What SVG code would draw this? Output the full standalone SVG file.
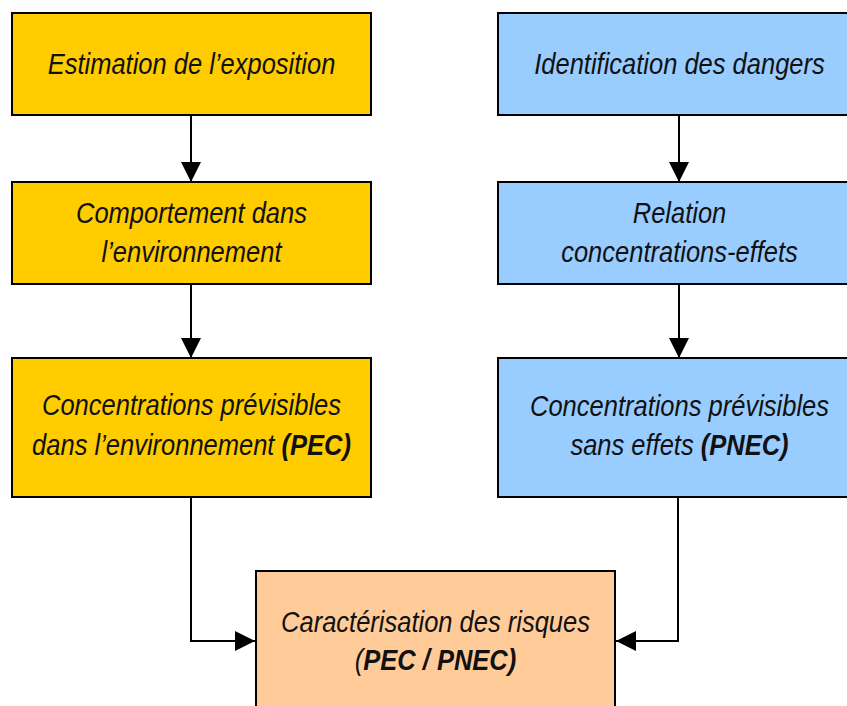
<svg xmlns="http://www.w3.org/2000/svg" width="847" height="706" viewBox="0 0 847 706">
  <style>
    .box { stroke: #000; stroke-width: 2; }
    .yellow { fill: #FFCC00; }
    .blue { fill: #99CCFF; }
    .orange { fill: #FFCC99; }
    text { font-family: "Liberation Sans", Arial, sans-serif; font-style: italic; font-size: 30px; fill: #111; text-anchor: middle; }
    .b { font-weight: bold; }
    .link { fill: none; stroke: #000; stroke-width: 2; }
  </style>
  <defs>
    <marker id="arrow" viewBox="0 0 20 20" refX="20" refY="10" markerWidth="20" markerHeight="20" markerUnits="userSpaceOnUse" orient="auto">
      <path d="M0,0 L20,10 L0,20 Z" fill="#000"/>
    </marker>
  </defs>
  <rect width="847" height="706" fill="#fff"/>

  <g id="connectors">
    <line class="link" x1="191" y1="115" x2="191" y2="182" marker-end="url(#arrow)"/>
    <line class="link" x1="191" y1="284" x2="191" y2="358" marker-end="url(#arrow)"/>
    <line class="link" x1="679" y1="115" x2="679" y2="182" marker-end="url(#arrow)"/>
    <line class="link" x1="679" y1="284" x2="679" y2="358" marker-end="url(#arrow)"/>
    <polyline class="link" points="191,497 191,641 255,641" marker-end="url(#arrow)"/>
    <polyline class="link" points="678,497 678,641 616,641" marker-end="url(#arrow)"/>
  </g>

  <!-- labels are set in a condensed italic: horizontal scale 0.85 -->
  <g id="estimation-exposition">
    <rect class="box yellow" x="12" y="13" width="359" height="102"/>
    <text transform="translate(191.5,74) scale(0.85,1)">Estimation de l’exposition</text>
  </g>
  <g id="comportement-environnement">
    <rect class="box yellow" x="12" y="182" width="359" height="102"/>
    <text transform="translate(191.5,223) scale(0.85,1)">Comportement dans</text>
    <text transform="translate(191.5,262) scale(0.85,1)">l’environnement</text>
  </g>
  <g id="pec">
    <rect class="box yellow" x="12" y="358" width="359" height="139"/>
    <text transform="translate(191.5,415) scale(0.85,1)">Concentrations prévisibles</text>
    <text transform="translate(191.5,455) scale(0.85,1)">dans l’environnement <tspan class="b">(PEC)</tspan></text>
  </g>

  <g id="identification-dangers">
    <rect class="box blue" x="498" y="13" width="362" height="102"/>
    <text transform="translate(679.5,74) scale(0.85,1)">Identification des dangers</text>
  </g>
  <g id="relation-concentrations-effets">
    <rect class="box blue" x="498" y="182" width="362" height="102"/>
    <text transform="translate(679.5,223) scale(0.85,1)">Relation</text>
    <text transform="translate(679.5,262) scale(0.85,1)">concentrations-effets</text>
  </g>
  <g id="pnec">
    <rect class="box blue" x="498" y="358" width="362" height="139"/>
    <text transform="translate(679.5,416) scale(0.85,1)">Concentrations prévisibles</text>
    <text transform="translate(679.5,455) scale(0.85,1)">sans effets <tspan class="b">(PNEC)</tspan></text>
  </g>

  <g id="caracterisation-risques">
    <rect class="box orange" x="256" y="571" width="359" height="150"/>
    <text transform="translate(435.5,632) scale(0.85,1)">Caractérisation des risques</text>
    <text transform="translate(435.5,670) scale(0.85,1)">(<tspan class="b">PEC / PNEC)</tspan></text>
  </g>
</svg>
